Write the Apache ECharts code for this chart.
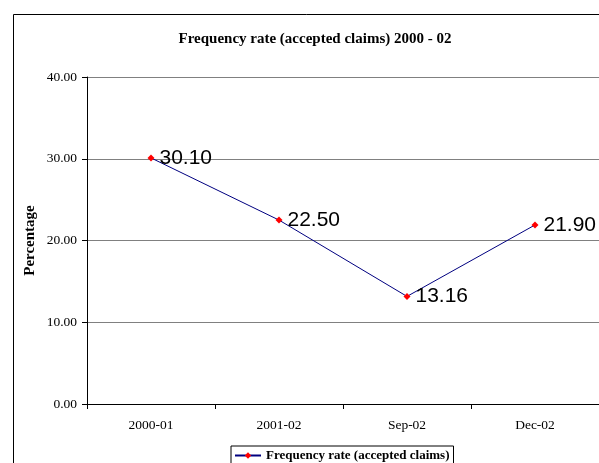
<!DOCTYPE html>
<html><head><meta charset="utf-8">
<script src="https://cdn.jsdelivr.net/npm/echarts@6/dist/echarts.min.js"></script>
<style>html,body{margin:0;padding:0;background:#fff}#c{width:599px;height:463px}</style>
</head><body><div id="c"></div>
<script>
const categories = ['2000-01', '2001-02', 'Sep-02', 'Dec-02'];
const values = [30.10, 22.50, 13.16, 21.90];
const seriesName = 'Frequency rate (accepted claims)';
const chart = echarts.init(document.getElementById('c'), null, {renderer: 'canvas'});
const serif = '"Liberation Serif", "DejaVu Serif", serif';
chart.setOption({
  animation: false,
  backgroundColor: '#fff',
  graphic: [{
    type: 'rect', left: 11, top: 12, silent: true,
    shape: {x: 0, y: 0, width: 700, height: 600},
    style: {fill: 'none', stroke: '#000', lineWidth: 1}
  }],
  title: {
    text: 'Frequency rate (accepted claims) 2000 - 02',
    left: 310, top: 27, textAlign: 'center',
    textStyle: {fontFamily: serif, fontSize: 15, fontWeight: 'bold', color: '#000'}
  },
  legend: {
    left: 231, top: 446, padding: [3, 4, 3, 3],
    borderColor: '#000', borderWidth: 1,
    itemWidth: 26, itemHeight: 8,
    textStyle: {fontFamily: serif, fontSize: 13, fontWeight: 'bold', color: '#000'},
    data: [seriesName]
  },
  grid: {left: 87, top: 77, width: 516, bottom: 59},
  xAxis: {
    type: 'category', data: categories, boundaryGap: true,
    axisLine: {lineStyle: {color: '#000', width: 1}},
    axisTick: {show: true, length: 5, lineStyle: {color: '#000'}},
    axisLabel: {fontFamily: serif, fontSize: 13.5, color: '#000', margin: 14}
  },
  yAxis: {
    type: 'value', min: 0, max: 40, interval: 10,
    name: 'Percentage', nameLocation: 'middle', nameGap: 49, nameRotate: 90,
    nameMoveOverlap: false,
    nameTextStyle: {fontFamily: serif, fontSize: 15, fontWeight: 'bold', color: '#000'},
    axisLine: {show: true, lineStyle: {color: '#000', width: 1}},
    axisTick: {show: true, length: 5, lineStyle: {color: '#000'}},
    axisLabel: {fontFamily: serif, fontSize: 13.5, color: '#000', margin: 10,
      formatter: v => v.toFixed(2)},
    splitLine: {show: true, lineStyle: {color: '#808080', width: 1}}
  },
  series: [{
    name: seriesName, type: 'line', data: values,
    symbol: 'diamond', symbolSize: 7,
    itemStyle: {color: '#ff0000'},
    lineStyle: {color: '#000080', width: 1},
    label: {show: true, position: 'right', distance: 5,
      fontFamily: '"Liberation Sans", Arial, sans-serif', fontSize: 21, color: '#000',
      formatter: p => p.value.toFixed(2)}
  }]
});
</script></body></html>
